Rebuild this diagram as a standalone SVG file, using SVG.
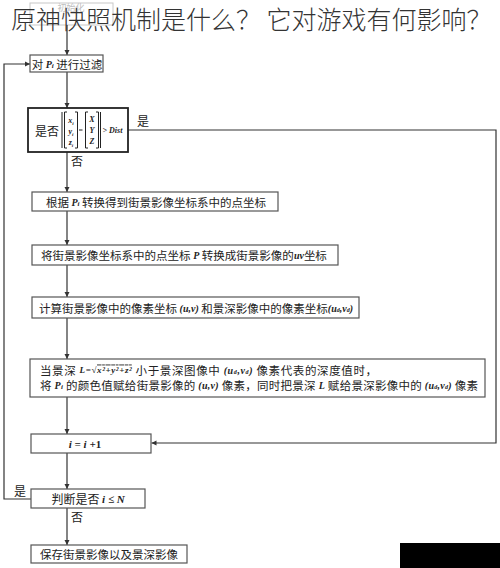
<svg xmlns="http://www.w3.org/2000/svg" width="500" height="568" viewBox="0 0 500 568">
<style>
.bg{fill:#ffffff}
.box{fill:#ffffff;stroke:#555;stroke-width:1.2}
.dbox{fill:#ffffff;stroke:#222;stroke-width:1.8}
.t{font-family:"Noto Sans CJK SC","Noto Sans",sans-serif;font-size:11.5px;fill:#222}
.m{font-family:"Liberation Serif",serif;font-style:italic;font-weight:bold;fill:#222}
.lbl{font-family:"Noto Sans CJK SC",sans-serif;font-size:12px;fill:#222}
.title{font-family:"Noto Sans CJK SC","Noto Sans",sans-serif;font-size:25px;fill:#333;font-weight:300}
.con{fill:none;stroke:#333;stroke-width:1.2}
.br{fill:none;stroke:#222;stroke-width:1}
</style>
<defs>
<marker id="arr" markerUnits="userSpaceOnUse" markerWidth="6" markerHeight="6" refX="5" refY="3" orient="auto">
<path d="M0,0.5 L5,3 L0,5.5 Z" fill="#333"/>
</marker>
</defs>
<rect class="bg" x="0" y="0" width="500" height="568"/>
<g id="init">
<rect x="30" y="3" width="83" height="22" fill="none" stroke="#c8c8c8" stroke-width="1"/>
<text x="71" y="11" text-anchor="middle" class="t" style="fill:#c0c0c0;font-size:9px">初始化</text>
</g>
<g id="connectors">
<path class="con" d="M67 25 V55" marker-end="url(#arr)"/>
<path class="con" d="M67 72 V108" marker-end="url(#arr)"/>
<path class="con" d="M67 152 V192" marker-end="url(#arr)"/>
<path class="con" d="M67 211 V245" marker-end="url(#arr)"/>
<path class="con" d="M67 265 V297" marker-end="url(#arr)"/>
<path class="con" d="M67 318 V359" marker-end="url(#arr)"/>
<path class="con" d="M67 397 V434" marker-end="url(#arr)"/>
<path class="con" d="M67 453 V489" marker-end="url(#arr)"/>
<path class="con" d="M67 508 V545" marker-end="url(#arr)"/>
<path class="con" d="M128 130 H496 V443 H151.5" marker-end="url(#arr)"/>
<path class="con" d="M31 499 H4 V64 H30" marker-end="url(#arr)"/>
<text class="lbl" x="137" y="126">是</text>
<text class="lbl" x="71" y="166">否</text>
<text class="lbl" x="14" y="496">是</text>
<text class="lbl" x="71" y="522">否</text>
</g>
<text class="title" x="11" y="29">原神快照机制是什么？ 它对游戏有何影响？</text>
<g id="filter">
<rect class="box" x="30" y="55" width="73" height="17"/>
<text class="t" x="67" y="63.5" text-anchor="middle" dominant-baseline="central">对 <tspan class="m" font-size="10">P<tspan font-size="7" dy="2">i</tspan></tspan><tspan dy="-2"> 进行过滤</tspan></text>
</g>
<g id="decision">
<rect class="dbox" x="28" y="108" width="100" height="44"/>
<text class="t" x="35" y="130" dominant-baseline="central" style="font-size:12px">是否</text>
<path class="br" d="M62 112 V148 M67 112 H64.5 V148 H67 M75 112 H77.5 V148 H75 M79 130 H82.5 M88 112 H85.5 V148 H88 M96 112 H98.5 V148 H96 M100.5 112 V148"/>
<text class="m" font-size="8" text-anchor="middle"><tspan x="71" y="123">x<tspan font-size="5" dy="1.5">i</tspan></tspan><tspan x="71" y="134">y<tspan font-size="5" dy="1.5">i</tspan></tspan><tspan x="71" y="145">z<tspan font-size="5" dy="1.5">i</tspan></tspan></text>
<text class="m" font-size="8" text-anchor="middle"><tspan x="92" y="122">X</tspan><tspan x="92" y="133">Y</tspan><tspan x="92" y="144">Z</tspan></text>
<text class="m" font-size="8" x="102.5" y="133">&gt; Dist</text>
</g>
<g id="convert1">
<rect class="box" x="32" y="192" width="246" height="19"/>
<text class="t" x="156" y="201.5" text-anchor="middle" dominant-baseline="central">根据 <tspan class="m" font-size="10">P<tspan font-size="7" dy="2">i</tspan></tspan><tspan dy="-2"> 转换得到街景影像坐标系中的点坐标</tspan></text>
</g>
<g id="convert2">
<rect class="box" x="32" y="245" width="306" height="20"/>
<text class="t" x="184" y="255" text-anchor="middle" dominant-baseline="central">将街景影像坐标系中的点坐标 <tspan class="m" font-size="10">P</tspan> 转换成街景影像的<tspan class="m" font-size="10">uv</tspan>坐标</text>
</g>
<g id="pixel">
<rect class="box" x="32" y="297" width="327" height="21"/>
<text class="t" x="196" y="307.5" text-anchor="middle" dominant-baseline="central">计算街景影像中的像素坐标 <tspan class="m" font-size="10">(u,v)</tspan> 和景深影像中的像素坐标<tspan class="m" font-size="10">(u<tspan font-size="6" dy="2">d</tspan><tspan dy="-2">,v</tspan><tspan font-size="6" dy="2">d</tspan><tspan dy="-2">)</tspan></tspan></text>
</g>
<g id="depth">
<rect class="box" x="30" y="359" width="455" height="38"/>
<text class="t" x="40" y="369.5" dominant-baseline="central" textLength="337" lengthAdjust="spacing">当景深 <tspan class="m" font-size="9">L=√<tspan text-decoration="overline">x²+y²+z²</tspan></tspan> 小于景深图像中 <tspan class="m" font-size="10">(u<tspan font-size="6" dy="2">d</tspan><tspan dy="-2">,v</tspan><tspan font-size="6" dy="2">d</tspan><tspan dy="-2">)</tspan></tspan> 像素代表的深度值时，</text>
<text class="t" x="40" y="385" dominant-baseline="central" textLength="438" lengthAdjust="spacing">将 <tspan class="m" font-size="10">P<tspan font-size="7" dy="2">i</tspan></tspan><tspan dy="-2"> 的颜色值赋给街景影像的 </tspan><tspan class="m" font-size="10">(u,v)</tspan> 像素，同时把景深 <tspan class="m" font-size="10">L</tspan> 赋给景深影像中的 <tspan class="m" font-size="10">(u<tspan font-size="6" dy="2">d</tspan><tspan dy="-2">,v</tspan><tspan font-size="6" dy="2">d</tspan><tspan dy="-2">)</tspan></tspan> 像素</text>
</g>
<g id="increment">
<rect class="box" x="31" y="434" width="120" height="19"/>
<text class="m" font-size="11" x="85" y="443.5" text-anchor="middle" dominant-baseline="central">i = i +<tspan font-style="normal">1</tspan></text>
</g>
<g id="check">
<rect class="box" x="31" y="489" width="114" height="19"/>
<text class="t" x="88" y="498.5" text-anchor="middle" dominant-baseline="central" style="font-size:12px">判断是否 <tspan class="m" font-size="11">i ≤ N</tspan></text>
</g>
<g id="save">
<rect class="box" x="31" y="545" width="156" height="18"/>
<text class="t" x="109" y="554" text-anchor="middle" dominant-baseline="central" style="font-size:11.5px">保存街景影像以及景深影像</text>
</g>
<rect x="400" y="543" width="100" height="25" fill="#000"/>
</svg>
